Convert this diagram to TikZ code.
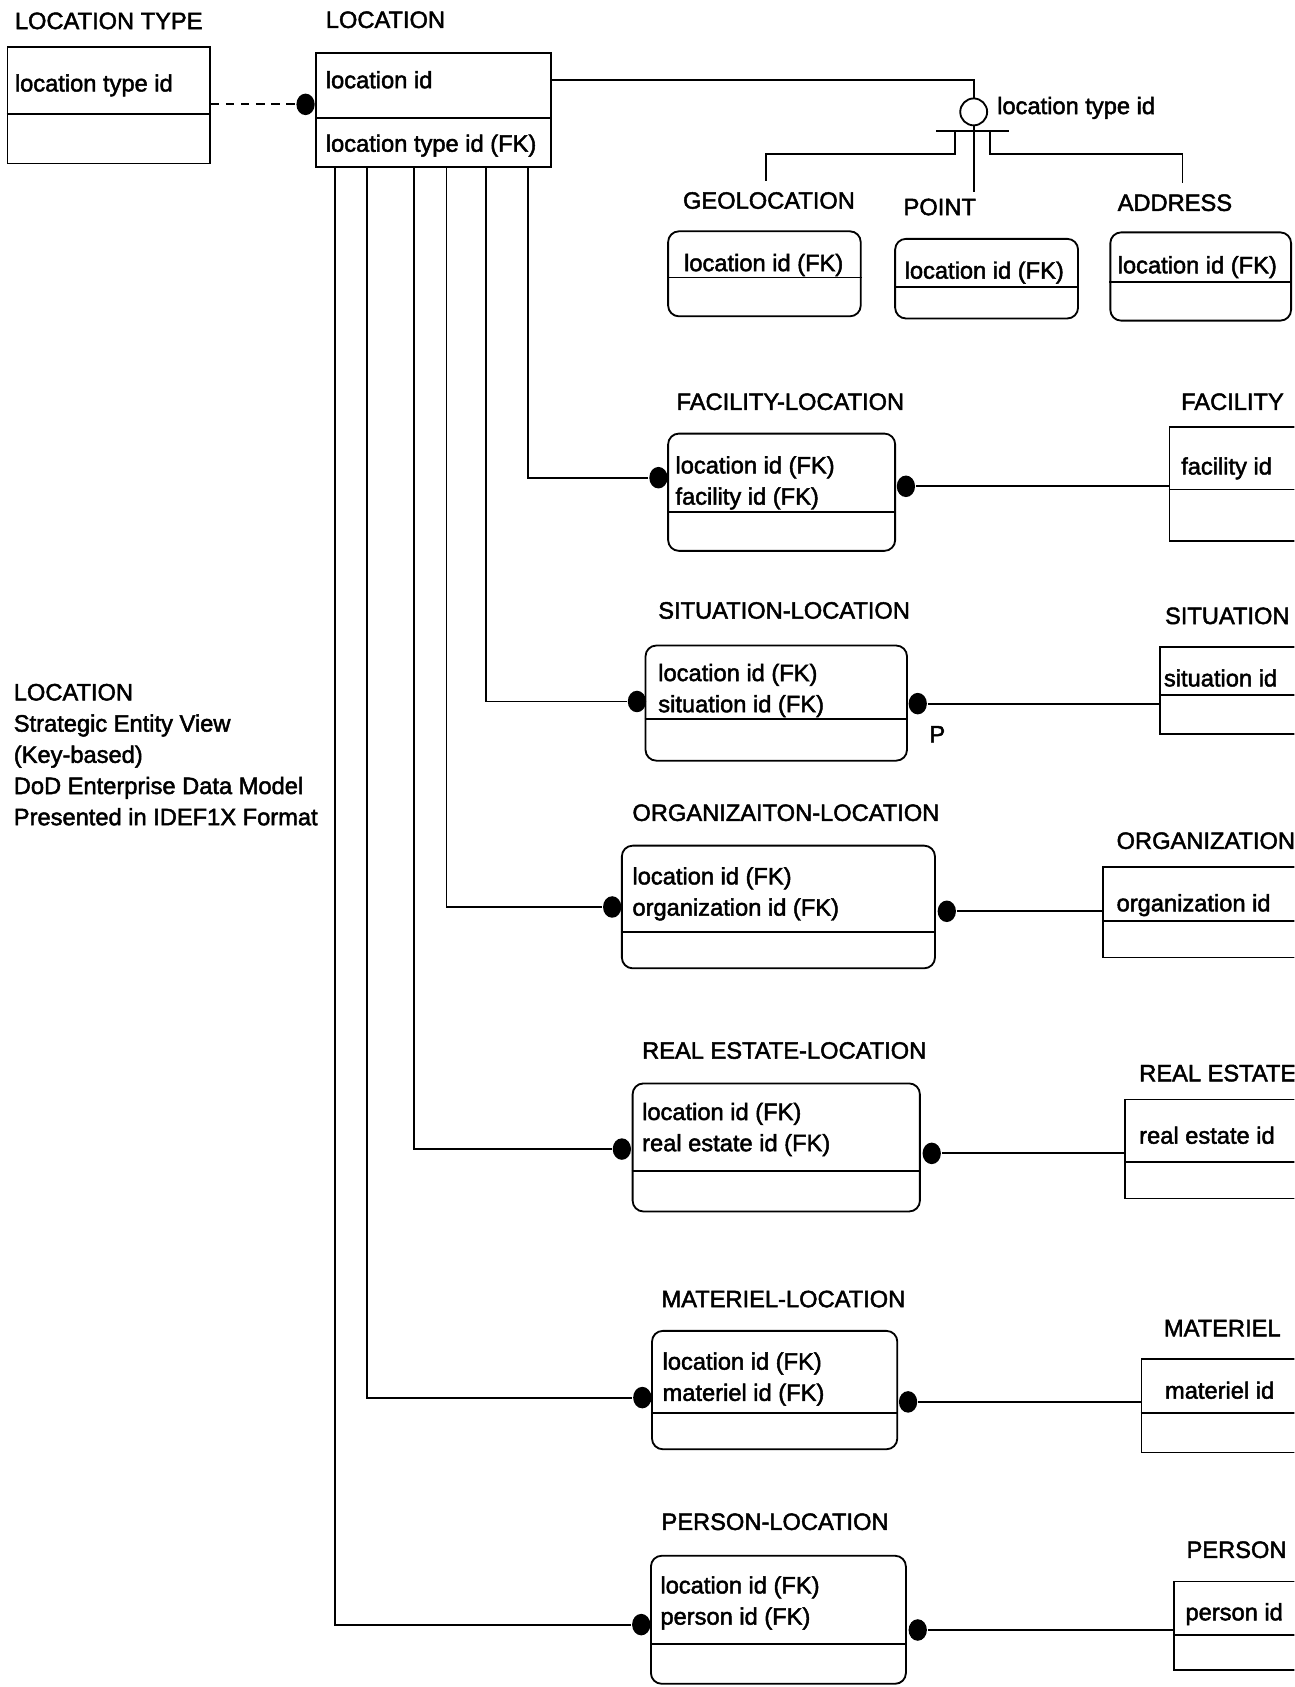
\documentclass[tikz,border=0pt]{standalone}
\usepackage{fontspec}
\newfontfamily\dfont{Liberation Sans}[FakeBold=2]
\usetikzlibrary{fit,shapes.geometric}
\begin{document}
\begin{tikzpicture}[x=0.5pt,y=-0.5pt,line width=0.85pt,
  txt/.style={inner sep=0pt,anchor=west,text height=8pt,text depth=0pt,font=\dfont\fontsize{11}{13}\selectfont},
  ent/.style={draw,inner sep=0pt,line width=0.85pt},
  dep/.style={ent,rounded corners=5pt},
  dot/.style={ellipse,fill,inner sep=0pt,minimum width=8.5pt,minimum height=10pt}]
\useasboundingbox (0,0) rectangle (1203,1568);
\clip (0,0) rectangle (1203,1568);
\fill[white] (0,0) rectangle (1203,1568);

% ---------- independent entities ----------
\node[ent,fit={(7,44) (195,152)}] (lt) {};
\node[ent,fit={(294,49) (512,155)}] (loc) {};
\node[ent,fit={(1087,397) (1215,503)}] (fac) {};
\node[ent,fit={(1078,601) (1215,682)}] (sit) {};
\node[ent,fit={(1025,806) (1215,890)}] (org) {};
\node[ent,fit={(1046,1022) (1215,1114)}] (re) {};
\node[ent,fit={(1061,1263) (1215,1350)}] (mat) {};
\node[ent,fit={(1091,1470) (1215,1552)}] (per) {};
% ---------- dependent entities ----------
\node[dep,fit={(621,215) (800,294)}] (geo) {};
\node[dep,fit={(832,222) (1002,296)}] (pt) {};
\node[dep,fit={(1032,216) (1200,298)}] (ad) {};
\node[dep,fit={(621,403) (832,512)}] (fl) {};
\node[dep,fit={(600,600) (843,707)}] (sl) {};
\node[dep,fit={(578,786) (869,900)}] (ol) {};
\node[dep,fit={(588,1007) (855,1126)}] (rl) {};
\node[dep,fit={(606,1237) (834,1347)}] (ml) {};
\node[dep,fit={(605,1446) (842,1565)}] (pl) {};

% ---------- key dividers ----------
\foreach \n/\y in {lt/106,loc/110,fac/455,sit/646,org/856,re/1080,mat/1313,per/1520,
  geo/258,pt/267,ad/262,fl/476,sl/668,ol/866,rl/1088,ml/1313,pl/1528}
  \draw (\n.west |- 0,\y) -- (\n.east |- 0,\y);

% ---------- entity names ----------
\node[txt] (ltlab) at (13,19) {LOCATION TYPE};
\node[txt] (loclab) at (302,18) {LOCATION};
\node[txt] (geolab) at (634,186) {GEOLOCATION};
\node[txt] (ptlab) at (839,192) {POINT};
\node[txt] (adlab) at (1038,188) {ADDRESS};
\node[txt] (fllab) at (628,373) {FACILITY-LOCATION};
\node[txt] (faclab) at (1097,373) {FACILITY};
\node[txt] (sllab) at (611,567) {SITUATION-LOCATION};
\node[txt] (sitlab) at (1082,572) {SITUATION};
\node[txt] (ollab) at (587,755) {ORGANIZAITON-LOCATION};
\node[txt] (orglab) at (1037,781) {ORGANIZATION};
\node[txt] (rllab) at (596,976) {REAL ESTATE-LOCATION};
\node[txt] (relab) at (1058,997) {REAL ESTATE};
\node[txt] (mllab) at (614,1207) {MATERIEL-LOCATION};
\node[txt] (matlab) at (1081,1234) {MATERIEL};
\node[txt] (pllab) at (614,1414) {PERSON-LOCATION};
\node[txt] (perlab) at (1102,1440) {PERSON};

% ---------- attributes ----------
\node[txt] (ltattr) at (13,77) {location type id};
\node[txt] (locattr1) at (302,74) {location id};
\node[txt] (locattr2) at (302,133) {location type id (FK)};
\node[txt] (geoattr) at (635,244) {location id (FK)};
\node[txt] (ptattr) at (840,251) {location id (FK)};
\node[txt] (adattr) at (1038,246) {location id (FK)};
\node[txt] (flattr1) at (627,432) {location id (FK)};
\node[txt] (flattr2) at (627,461) {facility id (FK)};
\node[txt] (facattr) at (1097,433) {facility id};
\node[txt] (slattr1) at (611,625) {location id (FK)};
\node[txt] (slattr2) at (611,654) {situation id (FK)};
\node[txt] (sitattr) at (1081,630) {situation id};
\node[txt] (olattr1) at (587,814) {location id (FK)};
\node[txt] (olattr2) at (587,843) {organization id (FK)};
\node[txt] (orgattr) at (1037,839) {organization id};
\node[txt] (rlattr1) at (596,1033) {location id (FK)};
\node[txt] (rlattr2) at (596,1062) {real estate id (FK)};
\node[txt] (reattr) at (1058,1055) {real estate id};
\node[txt] (mlattr1) at (615,1265) {location id (FK)};
\node[txt] (mlattr2) at (615,1294) {materiel id (FK)};
\node[txt] (matattr) at (1082,1292) {materiel id};
\node[txt] (plattr1) at (613,1473) {location id (FK)};
\node[txt] (plattr2) at (613,1502) {person id (FK)};
\node[txt] (perattr) at (1101,1498) {person id};

% ---------- title block ----------
\node[txt] (t1) at (12,643) {LOCATION};
\node[txt] (t2) at (12,672) {Strategic Entity View};
\node[txt] (t3) at (12,701) {(Key-based)};
\node[txt] (t4) at (12,730) {DoD Enterprise Data Model};
\node[txt] (t5) at (12,759) {Presented in IDEF1X Format};

% ---------- categorization ----------
\node[circle,draw,minimum size=12.5pt,inner sep=0pt] (cat) at (905,104) {};
\node[txt] (catlab) at (926,98) {location type id};
\coordinate (barl) at (870,122);
\coordinate (barr) at (938,122);
\draw (barl) -- (barr);
\draw (loc.east |- 0,74) -| (cat.north);
\coordinate (geotop) at (712,168);
\coordinate (pttop) at (905,178);
\coordinate (adtop) at (1099,170);
\draw (cat.south) -- (pttop);
\draw (888,122) -- (888,143) -| (geotop);
\draw (920,122) -- (920,143) -| (adtop);

% ---------- dots ----------
\node[dot] (d0) at (284,97) {};
\node[dot] (fll) at (612,444) {};
\node[dot] (flr) at (842,452) {};
\node[dot] (sll) at (592,652) {};
\node[dot] (slr) at (853,654) {};
\node[dot] (oll) at (569,843) {};
\node[dot] (olr) at (880,847) {};
\node[dot] (rll) at (578,1068) {};
\node[dot] (rlr) at (866,1072) {};
\node[dot] (mll) at (597,1299) {};
\node[dot] (mlr) at (844,1303) {};
\node[dot] (pll) at (596,1510) {};
\node[dot] (plr) at (853,1515) {};
\node[txt] (plab) at (863,682) {P};

% ---------- relationships ----------
\draw[dashed,dash pattern=on 4pt off 3pt] (lt.east |- d0) -- (d0);
\foreach \x/\d in {491/fll,452/sll,415/oll,385/rll,341/mll,311/pll}
  \draw (loc.south -| \x,0) |- (\d);
\draw (flr) -- (flr -| fac.west);
\draw (slr) -- (slr -| sit.west);
\draw (olr) -- (olr -| org.west);
\draw (rlr) -- (rlr -| re.west);
\draw (mlr) -- (mlr -| mat.west);
\draw (plr) -- (plr -| per.west);
\end{tikzpicture}
\end{document}
